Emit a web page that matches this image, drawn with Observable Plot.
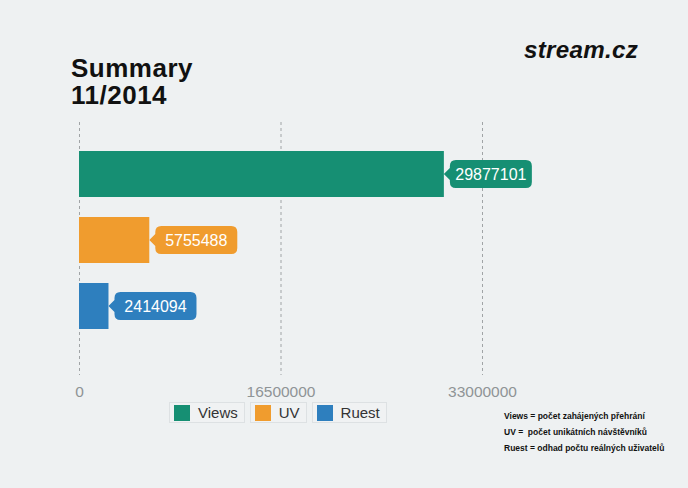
<!DOCTYPE html>
<html>
<head>
<meta charset="utf-8">
<script src="https://cdn.jsdelivr.net/npm/d3@7"></script>
<script src="https://cdn.jsdelivr.net/npm/@observablehq/plot@0.6"></script>
<style>
  html, body { margin: 0; padding: 0; background: #eef1f2; }
  #wrap { position: relative; width: 688px; height: 488px; background: #eef1f2; overflow: hidden; font-family: "Liberation Sans", Arial, sans-serif; }
  .title { position: absolute; left: 71px; font-weight: bold; font-size: 26px; line-height: 26px; color: #111; letter-spacing: 0.5px; }
  #logo { position: absolute; left: 524px; top: 37px; font-weight: bold; font-style: italic; font-size: 23px; color: #111; letter-spacing: 0.3px; transform: scaleX(1.05); transform-origin: left; }
  #legend { position: absolute; left: 169px; top: 402px; display: flex; gap: 5px; }
  .item { display: flex; align-items: center; height: 19px; padding: 0 6px 0 4px; border: 1px solid #dde1e3; background: #f0f2f3; font-size: 15px; color: #333; }
  .sw { width: 16px; height: 16px; margin-right: 8px; }
  #notes { position: absolute; left: 504px; top: 408px; font-weight: bold; font-size: 8.5px; line-height: 16px; color: #111; white-space: pre; }
  svg { position: absolute; left: 0; top: 0; }
</style>
</head>
<body>
<div id="wrap">
  <div class="title" style="top:55px">Summary</div>
  <div class="title" style="top:82px">11/2014</div>
  <div id="logo">stream.cz</div>
  <div id="legend"></div>
  <div id="notes"></div>
</div>
<script>
const categories = ["Views", "UV", "Ruest"];
const values = [29877101, 5755488, 2414094];
const colors = ["#168f73", "#f09c2e", "#2e7fbe"];
const tickValues = [0, 16500000, 33000000];
const notes = ["Views = počet zahájených přehrání", "UV =  počet unikátních návštěvníků", "Ruest = odhad počtu reálných uživatelů"];

const data = categories.map((c, i) => ({category: c, value: values[i], color: colors[i]}));

function callouts(index, scales) {
  const g = d3.create("svg:g");
  const bw = typeof scales.y.bandwidth === "function" ? scales.y.bandwidth() : scales.y.bandwidth;
  for (const d of data) {
    const x0 = scales.x(d.value);
    const cy = scales.y(d.category) + bw / 2;
    const p = 6, w = 82, h = 28, r = 6;
    const bx = x0 + p;
    const top = cy - h / 2, bot = cy + h / 2;
    const path = `M${x0},${cy} L${bx},${cy - 6} L${bx},${top + r} Q${bx},${top} ${bx + r},${top} L${bx + w - r},${top} Q${bx + w},${top} ${bx + w},${top + r} L${bx + w},${bot - r} Q${bx + w},${bot} ${bx + w - r},${bot} L${bx + r},${bot} Q${bx},${bot} ${bx},${bot - r} L${bx},${cy + 6} Z`;
    g.append("path").attr("d", path).attr("fill", d.color);
    g.append("text")
      .attr("x", bx + w / 2).attr("y", cy).attr("dy", "0.36em")
      .attr("text-anchor", "middle")
      .attr("fill", "#fff")
      .attr("font-size", 16)
      .attr("font-family", "Liberation Sans, Arial, sans-serif")
      .text(d3.format("d")(d.value));
  }
  return g.node();
}

const chart = Plot.plot({
  width: 688,
  height: 488,
  marginLeft: 79,
  marginRight: 206,
  marginTop: 130,
  marginBottom: 137,
  style: {background: "transparent", fontFamily: "Liberation Sans, Arial, sans-serif"},
  x: {domain: [0, 33000000], ticks: tickValues, tickFormat: d3.format("d"), label: null},
  y: {domain: categories, padding: 0.3, axis: null},
  color: {domain: categories, range: colors},
  marks: [
    Plot.ruleX(tickValues, {stroke: "#a0a4a6", strokeDasharray: "3,3", strokeWidth: 1, insetTop: -8, insetBottom: -24}),
    Plot.barX(data, {x: "value", y: "category", fill: "category"}),
    Plot.axisX({ticks: tickValues, tickSize: 0, tickPadding: 34, fontSize: 15.5, fill: "#8f9496", tickFormat: d3.format("d"), label: null}),
    callouts
  ]
});
document.getElementById("wrap").appendChild(chart);

const legend = document.getElementById("legend");
categories.forEach((c, i) => {
  const it = document.createElement("div");
  it.className = "item";
  it.innerHTML = `<span class="sw" style="background:${colors[i]}"></span>${c}`;
  legend.appendChild(it);
});
document.getElementById("notes").textContent = notes.join("\n");
</script>
</body>
</html>
